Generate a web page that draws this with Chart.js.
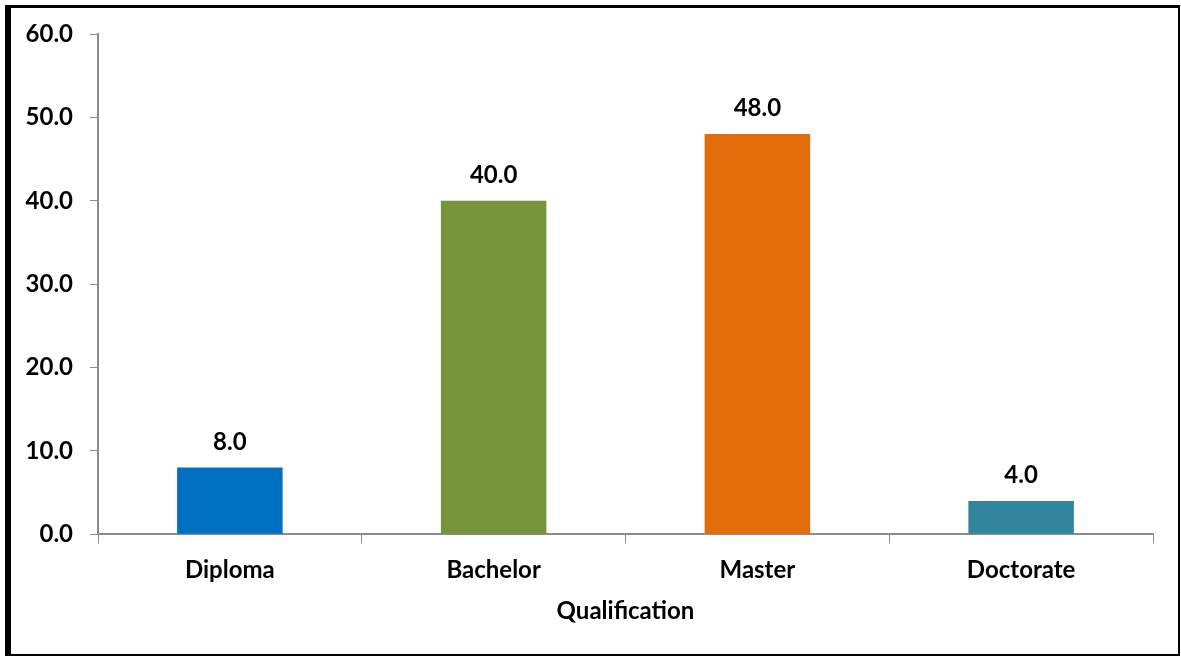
<!DOCTYPE html>
<html>
<head>
<meta charset="utf-8">
<script src="https://cdn.jsdelivr.net/npm/chart.js@4/dist/chart.umd.min.js"></script>
<style>
  html, body { margin: 0; padding: 0; background: #fff; }
  #wrap { position: relative; width: 1181px; height: 657px; }
</style>
</head>
<body>
<div id="wrap"><canvas id="qualChart" width="1181" height="657"></canvas></div>
<script>
//chart data
var categories = ["Diploma", "Bachelor", "Master", "Doctorate"];
var percents = [8.0, 40.0, 48.0, 4.0];
var barColors = ["#0070C0", "#77933C", "#E36C0A", "#31859C"];
var yTicks = { min: 0, max: 60, step: 10 };

var FONT = "Lato, 'Open Sans', sans-serif";
var AXIS_GREY = "#8C8C8C";

//draws the black frame round the whole picture
var framePlugin = {
    id: "frame",
    beforeDraw: function( chart ){
        var ctx = chart.ctx, w = chart.width, h = chart.height;
        ctx.save();
        ctx.fillStyle = "#fff";
        ctx.fillRect( 0, 0, w, h );
        ctx.fillStyle = "#000";
        ctx.fillRect( 5, 5, 6, h - 8 );      // left
        ctx.fillRect( 5, 5, w - 6, 3 );      // top
        ctx.fillRect( w - 3, 5, 2, h - 8 );  // right
        ctx.fillRect( 5, h - 3, w - 6, 2 );  // bottom
        ctx.restore();
    }
};

//value labels above each bar
var valueLabels = {
    id: "valueLabels",
    afterDatasetsDraw: function( chart ){
        var ctx = chart.ctx;
        var meta = chart.getDatasetMeta( 0 );
        ctx.save();
        ctx.font = "bold 24px " + FONT;
        ctx.fillStyle = "#000";
        ctx.textAlign = "center";
        ctx.textBaseline = "alphabetic";
        meta.data.forEach( function( bar, i ){
            var v = chart.data.datasets[0].data[i];
            ctx.fillText( v.toFixed(1), bar.x, bar.y - 18 );
        });
        ctx.restore();
    }
};

new Chart( document.getElementById("qualChart").getContext("2d"), {
    type: "bar",
    data: {
        labels: categories,
        datasets: [{
            data: percents,
            backgroundColor: barColors,
            borderWidth: 0,
            barPercentage: 0.4,
            categoryPercentage: 1.0
        }]
    },
    options: {
        responsive: false,
        animation: false,
        layout: { padding: { left: 10, top: 34, right: 28, bottom: 0 } },
        plugins: {
            legend: { display: false },
            tooltip: { enabled: false }
        },
        scales: {
            x: {
                grid: { drawOnChartArea: false, drawTicks: true, tickLength: 9, color: AXIS_GREY, offset: true },
                border: { color: AXIS_GREY, width: 2 },
                ticks: { color: "#000", font: { family: FONT, size: 24, weight: "bold" }, padding: 13 },
                title: {
                    display: true, text: "Qualification", color: "#000",
                    font: { family: FONT, size: 24, weight: "bold" },
                    padding: { top: 0, bottom: 31 }
                },
                afterFit: function( scale ){ scale.height = 122.7; }
            },
            y: {
                min: yTicks.min,
                max: yTicks.max,
                grid: { drawOnChartArea: false, drawTicks: true, tickLength: 8, color: AXIS_GREY },
                border: { color: AXIS_GREY, width: 2 },
                ticks: {
                    stepSize: yTicks.step,
                    color: "#000",
                    font: { family: FONT, size: 24, weight: "bold" },
                    padding: 17,
                    callback: function( value ){ return value.toFixed(1); }
                },
                afterFit: function( scale ){ scale.width = 88; }
            }
        }
    },
    plugins: [ framePlugin, valueLabels ]
});
</script>
</body>
</html>
